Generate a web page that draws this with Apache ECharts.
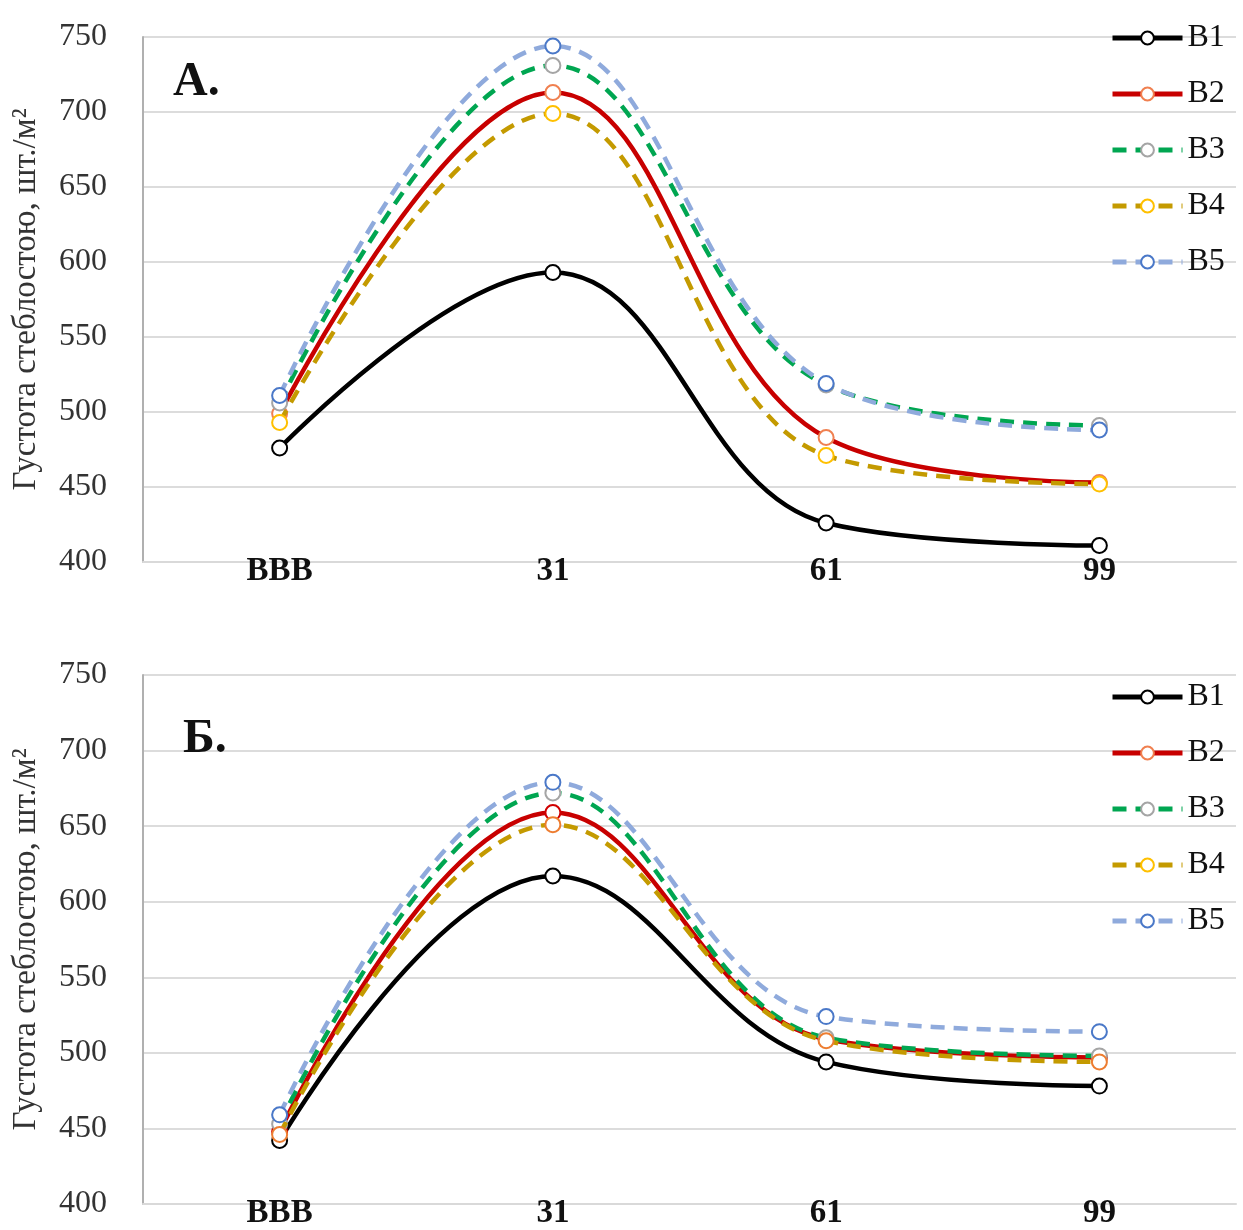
<!DOCTYPE html>
<html>
<head>
<meta charset="utf-8">
<script src="https://cdn.jsdelivr.net/npm/echarts@6/dist/echarts.min.js"></script>
<style>
html,body{margin:0;padding:0;background:#fff;}
#c{width:1243px;height:1230px;}
</style>
</head>
<body>
<div id="c"></div>
<script>
// Categories (growth stages)
const categories = ['ВВВ', '31', '61', '99'];
const seriesNames = ['В1', 'В2', 'В3', 'В4', 'В5'];
// Y-axis ticks
const yMin = 400, yMax = 750, yStep = 50;
const yAxisTitle = 'Густота стеблостою, шт./м²';

// Panel A values
const a_B1 = [476, 593, 426, 411];
const a_B2 = [499, 713, 483, 453];
const a_B3 = [506, 731, 518, 491];
const a_B4 = [493, 699, 471, 452];
const a_B5 = [511, 744, 519, 488];

// Panel Б values
const b_B1 = [442, 617, 494, 478];
const b_B2 = [448, 659, 509, 497];
const b_B3 = [453, 672, 510, 498];
const b_B4 = [446, 651, 508, 494];
const b_B5 = [459, 679, 524, 514];

const panelA = [a_B1, a_B2, a_B3, a_B4, a_B5];
const panelB = [b_B1, b_B2, b_B3, b_B4, b_B5];

const lineColors = ['#000000', '#c80000', '#00a651', '#c49a00', '#8faadc'];
const lineTypes = ['solid', 'solid', [14, 9], [14, 9], [14, 9]];
const markerA = ['#000000', '#f08050', '#a5a5a5', '#ffc000', '#4a78c8'];
const markerB = ['#000000', '#d00000', '#a5a5a5', '#ed7d31', '#4a78c8'];

const serif = '"Liberation Serif", "DejaVu Serif", serif';

function makeGrid(top, height) {
  return { left: 143, right: 7, top: top, height: height, containLabel: false };
}
function makeX(gi) {
  return {
    type: 'category', gridIndex: gi, data: categories, boundaryGap: true,
    axisLine: { show: true, lineStyle: { color: '#d9d9d9', width: 2 } },
    axisTick: { show: false },
    axisLabel: { color: '#111', fontFamily: serif, fontWeight: 'bold', fontSize: 33, margin: -7 },
    splitLine: { show: false }, z: 1
  };
}
function makeY(gi) {
  return {
    type: 'value', gridIndex: gi, min: yMin, max: yMax, interval: yStep,
    name: yAxisTitle, nameLocation: 'middle', nameGap: 100, nameRotate: 90,
    nameTextStyle: { fontFamily: serif, fontSize: 33, color: '#333' },
    axisLine: { show: true, lineStyle: { color: '#b0b0b0', width: 2 } },
    axisTick: { show: false },
    axisLabel: { color: '#333', fontFamily: serif, fontSize: 32, margin: 36 },
    splitLine: { show: true, lineStyle: { color: '#dcdcdc', width: 2 } }
  };
}
function makeSeries(panel, gi, markers) {
  return panel.map((vals, i) => ({
    name: seriesNames[i], type: 'line', xAxisIndex: gi, yAxisIndex: gi,
    data: vals, smooth: 0.4,
    symbol: 'circle', symbolSize: 15,
    itemStyle: { color: '#ffffff', borderColor: markers[i], borderWidth: 2 },
    lineStyle: { color: lineColors[i], width: 4.5, type: lineTypes[i] },
    z: 2 + i,
    emphasis: { disabled: true }
  }));
}
function makeLegend(top) {
  return {
    orient: 'vertical', left: 1105, top: top, itemWidth: 70, itemHeight: 16, itemGap: 24,
    textStyle: { fontFamily: serif, fontSize: 32, color: '#111', lineHeight: 30 },
    lineStyle: { width: 5 },
    data: seriesNames, selectedMode: false
  };
}

const chart = echarts.init(document.getElementById('c'), null, { renderer: 'canvas' });
chart.setOption({
  backgroundColor: '#ffffff',
  animation: false,
  title: [
    { text: 'А.', left: 168, top: 54, textStyle: { fontFamily: serif, fontWeight: 'bold', fontSize: 48, color: '#111' } },
    { text: 'Б.', left: 178, top: 711, textStyle: { fontFamily: serif, fontWeight: 'bold', fontSize: 48, color: '#111' } }
  ],
  legend: [makeLegend(17), makeLegend(676)],
  grid: [makeGrid(37, 525), makeGrid(675, 530)],
  xAxis: [makeX(0), makeX(1)],
  yAxis: [makeY(0), makeY(1)],
  series: [].concat(makeSeries(panelA, 0, markerA), makeSeries(panelB, 1, markerB))
});
</script>
</body>
</html>
